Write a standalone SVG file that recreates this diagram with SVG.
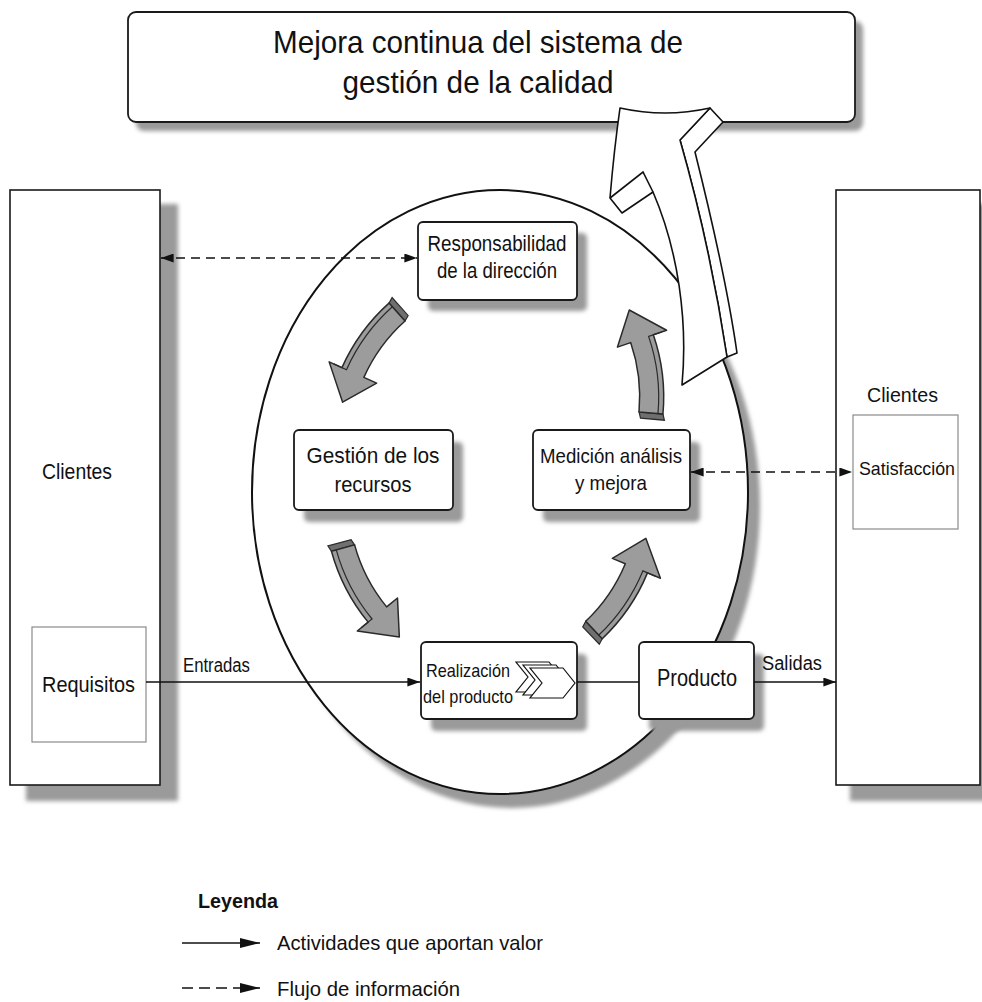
<svg xmlns="http://www.w3.org/2000/svg" width="982" height="1002" viewBox="0 0 982 1002">
<style>
text{font-family:"Liberation Sans",Arial,sans-serif;fill:#111}
.box{fill:#fff;stroke:#1a1a1a;stroke-width:1.6}
.node{fill:#fff;stroke:#1a1a1a;stroke-width:1.8}
.inner{fill:#fff;stroke:#8a8a8a;stroke-width:1.2}
.shadow{fill:#9a9a9a;filter:url(#blur)}
.ln{fill:none;stroke:#111;stroke-width:1.6}
.dash{stroke-dasharray:9 6}
.garrow{fill:#9c9c9c;stroke:#2a2a2a;stroke-width:1.5;stroke-linejoin:round}
.gline{fill:none;stroke:#2a2a2a;stroke-width:1.2}
.gtail{fill:#6f6f6f;stroke:#2a2a2a;stroke-width:1.2}
.white{fill:#fff;stroke:#111;stroke-width:1.6;stroke-linejoin:round}
.c{text-anchor:middle}
</style>
<defs>
<filter id="blur" x="-10%" y="-10%" width="120%" height="120%"><feGaussianBlur stdDeviation="2.2"/></filter>
<marker id="ah" viewBox="0 0 14 10" refX="14" refY="5" markerWidth="14" markerHeight="9" markerUnits="userSpaceOnUse" orient="auto-start-reverse"><path d="M0,0 L14,5 L0,10 Z" fill="#111"/></marker>
<marker id="ahL" viewBox="0 0 20 10" refX="20" refY="5" markerWidth="20" markerHeight="10" markerUnits="userSpaceOnUse" orient="auto"><path d="M0,0 L20,5 L0,10 Z" fill="#111"/></marker>
<g id="gArrowShape">
<path class="gtail" d="M168,0 L192,0 L194,6 L170,6 Z"/>
<path class="garrow" d="M192,0 A192,192 0 0 0 175.4,-78.1 L188.2,-83.8 L149.23,-100.65 L140.7,-62.6 L153.5,-68.3 A168,168 0 0 1 168,0 Z"/>
<path class="gline" d="M187,0 A187,187 0 0 0 170.8,-76.1 L183.6,-81.7"/>
</g>
</defs>
<rect width="982" height="1002" fill="#fff"/>

<g id="clientes-izq">
<rect class="shadow" x="26" y="204" width="152" height="597"/>
<rect class="box" x="10" y="190" width="150" height="595"/>
<text x="42" y="479" font-size="22" textLength="70" lengthAdjust="spacingAndGlyphs">Clientes</text>
</g>
<g id="requisitos">
<rect class="inner" x="32" y="627" width="114" height="115"/>
<text x="42" y="692" font-size="22" textLength="93" lengthAdjust="spacingAndGlyphs">Requisitos</text>
</g>

<g id="clientes-der">
<rect class="shadow" x="850" y="204" width="140" height="597"/>
<rect class="box" x="836" y="190" width="144" height="595"/>
<text x="867" y="402" font-size="21" textLength="71" lengthAdjust="spacingAndGlyphs">Clientes</text>
</g>
<g id="satisfaccion">
<rect class="inner" x="853" y="415" width="105" height="114"/>
<text x="859" y="475" font-size="19" textLength="96" lengthAdjust="spacingAndGlyphs">Satisfacción</text>
</g>

<g id="sistema">
<ellipse class="shadow" cx="512" cy="506" rx="248" ry="302"/>
<ellipse cx="500" cy="492" rx="248" ry="302" fill="#fff" stroke="#111" stroke-width="2"/>
</g>

<g id="mejora-continua">
<rect class="shadow" x="136" y="21" width="727" height="110" rx="8"/>
<rect class="node" x="128" y="12" width="727" height="110" rx="8"/>
<text x="478" y="53" font-size="32" class="c" textLength="410" lengthAdjust="spacingAndGlyphs">Mejora continua del sistema de</text>
<text x="478" y="93" font-size="32" class="c" textLength="271" lengthAdjust="spacingAndGlyphs">gestión de la calidad</text>
</g>

<g id="flecha-mejora">
<path class="white" d="M710,108 L723,122 L695,152 C712,220 728,290 737,353 L727,357 C716,285 700,210 680,140 Z"/>
<path class="white" d="M620,108 Q665,118 710,108 L680,140 C700,210 716,285 727,357 L682,385 C688,320 678,250 653,192 L622,213 L610,198 Q614,150 620,108 Z"/>
<path class="ln" d="M610,198 L643,172 L653,192"/>
</g>

<g id="responsabilidad">
<rect class="shadow" x="428" y="233" width="159" height="78" rx="5"/>
<rect class="node" x="418" y="222" width="159" height="78" rx="5"/>
<text x="497" y="251" font-size="22" class="c" textLength="139" lengthAdjust="spacingAndGlyphs">Responsabilidad</text>
<text x="497" y="278" font-size="22" class="c" textLength="120" lengthAdjust="spacingAndGlyphs">de la dirección</text>
</g>
<g id="gestion">
<rect class="shadow" x="304" y="442" width="159" height="80" rx="5"/>
<rect class="node" x="294" y="430" width="159" height="80" rx="5"/>
<text x="373" y="463" font-size="22" class="c" textLength="133" lengthAdjust="spacingAndGlyphs">Gestión de los</text>
<text x="373" y="492" font-size="22" class="c" textLength="77" lengthAdjust="spacingAndGlyphs">recursos</text>
</g>
<g id="medicion">
<rect class="shadow" x="543" y="442" width="157" height="80" rx="5"/>
<rect class="node" x="533" y="430" width="157" height="80" rx="5"/>
<text x="611" y="463" font-size="21" class="c" textLength="142" lengthAdjust="spacingAndGlyphs">Medición análisis</text>
<text x="611" y="490" font-size="21" class="c" textLength="72" lengthAdjust="spacingAndGlyphs">y mejora</text>
</g>
<g id="realizacion">
<rect class="shadow" x="431" y="654" width="156" height="77" rx="5"/>
<rect class="node" x="421" y="642" width="156" height="77" rx="5"/>
<text x="426" y="677" font-size="19" textLength="84" lengthAdjust="spacingAndGlyphs">Realización</text>
<text x="423" y="703" font-size="19" textLength="90" lengthAdjust="spacingAndGlyphs">del producto</text>
<g fill="#fff" stroke="#111" stroke-width="1.2">
<path d="M516,662 L549,662 L561,677 L549,692 L516,692 L528,677 Z"/>
<path d="M523,665 L556,665 L568,680 L556,695 L523,695 L535,680 Z"/>
<path d="M530,668 L563,668 L575,683 L563,698 L530,698 L542,683 Z"/>
</g>
</g>
<g id="producto">
<rect class="shadow" x="649" y="654" width="115" height="77" rx="5"/>
<rect class="node" x="639" y="642" width="115" height="77" rx="5"/>
<text x="697" y="686" font-size="24" class="c" textLength="80" lengthAdjust="spacingAndGlyphs">Producto</text>
</g>

<g id="ciclo">
<use href="#gArrowShape" transform="translate(517.2,446) rotate(228.1)"/>
<use href="#gArrowShape" transform="translate(471.7,397) rotate(5.1)"/>
<use href="#gArrowShape" transform="translate(516.6,500.4) rotate(164.65)"/>
<use href="#gArrowShape" transform="translate(470.1,499.4) rotate(46.5)"/>
</g>

<g id="connectors">
<path class="ln dash" d="M161,258 L417,258" marker-start="url(#ah)" marker-end="url(#ah)"/>
<path class="ln dash" d="M691,472 L852,472" marker-start="url(#ah)" marker-end="url(#ah)"/>
<path class="ln" d="M146,682 L420,682" marker-end="url(#ah)"/>
<path class="ln" d="M577,682 L639,682"/>
<path class="ln" d="M754,682 L836,682" marker-end="url(#ah)"/>
<text x="183" y="672" font-size="20" textLength="67" lengthAdjust="spacingAndGlyphs">Entradas</text>
<text x="762" y="670" font-size="20" textLength="60" lengthAdjust="spacingAndGlyphs">Salidas</text>
</g>

<g id="leyenda">
<text x="198" y="908" font-size="21" font-weight="bold" textLength="80" lengthAdjust="spacingAndGlyphs">Leyenda</text>
<path class="ln" d="M182,943 L260,943" marker-end="url(#ahL)"/>
<text x="277" y="950" font-size="21" textLength="266" lengthAdjust="spacingAndGlyphs">Actividades que aportan valor</text>
<path class="ln dash" d="M182,988 L260,988" marker-end="url(#ahL)" style="stroke-dasharray:11 6"/>
<text x="277" y="996" font-size="21" textLength="183" lengthAdjust="spacingAndGlyphs">Flujo de información</text>
</g>
</svg>
